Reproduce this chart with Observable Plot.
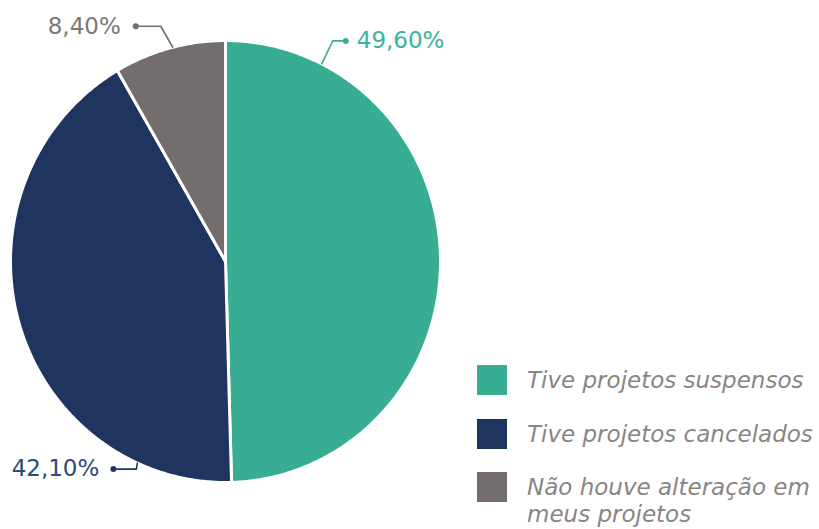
<!DOCTYPE html>
<html>
<head>
<meta charset="utf-8">
<script src="https://cdn.jsdelivr.net/npm/d3@7"></script>
<script src="https://cdn.jsdelivr.net/npm/@observablehq/plot@0.6"></script>
<style>
  html, body { margin: 0; padding: 0; background: #fff; }
  #wrap { position: relative; width: 819px; height: 529px; overflow: hidden; }
  #chart { position: absolute; left: 0; top: 0; }
  #legend { position: absolute; left: 477px; top: 365px; font-family: "DejaVu Sans", sans-serif; font-style: italic; font-size: 23px; color: #8a8583; }
  .row { display: flex; align-items: flex-start; height: 53.5px; }
  .sw { width: 30px; height: 30px; flex: none; margin-right: 20px; }
  .lab { line-height: 27px; margin-top: 2px; white-space: nowrap; }
</style>
</head>
<body>
<div id="wrap"><div id="chart"></div><div id="legend"></div></div>
<script>
const categories = ["Tive projetos suspensos", "Tive projetos cancelados", "Não houve alteração em meus projetos"];
const values = [49.6, 42.1, 8.4];
const valueLabels = ["49,60%", "42,10%", "8,40%"];
const colors = ["#38ad94", "#1f3560", "#736e6d"];
const labelColors = ["#3bb39a", "#2c4a7c", "#7d7775"];

// layout (pixels)
const cx = 225, cy = 261, rx = 215, ry = 221;
// callout anchor angles (degrees clockwise from top) and leader offsets in px
const callouts = [
  {angle: 26.6, path: [[0,0],[11,-23],[24,-23]], text: [35,-23], anchor: "start"},
  {angle: 204.2, path: [[0,0],[-1,6],[-24,6]], text: [-38,6], anchor: "end"},
  {angle: 345.8, path: [[0,0],[-12,-21],[-37,-21]], text: [-52,-21], anchor: "end"}
];

const total = d3.sum(values);
const slices = [];
let acc = 0;
values.forEach((v, i) => {
  const a0 = acc / total * 2 * Math.PI;
  acc += v;
  const a1 = acc / total * 2 * Math.PI;
  slices.push({cat: categories[i], x: 0, y: 0, k: 0});
  const n = Math.max(2, Math.ceil((a1 - a0) / (Math.PI / 360)));
  for (let j = 0; j <= n; j++) {
    const a = a0 + (a1 - a0) * j / n;
    slices.push({cat: categories[i], x: Math.sin(a), y: Math.cos(a), k: j + 1});
  }
  slices.push({cat: categories[i], x: 0, y: 0, k: n + 2});
});

const leaders = [], dots = [], texts = [];
callouts.forEach((c, i) => {
  const a = c.angle * Math.PI / 180;
  const ax = Math.sin(a), ay = Math.cos(a);
  c.path.forEach(([px, py], j) => leaders.push({i, x: ax + px / rx, y: ay - py / ry, k: j}));
  const last = c.path[c.path.length - 1];
  dots.push({i, x: ax + last[0] / rx, y: ay - last[1] / ry});
  texts.push({i, x: ax + c.text[0] / rx, y: ay - c.text[1] / ry, label: valueLabels[i], anchor: c.anchor});
});

const plot = Plot.plot({
  width: 819,
  height: 529,
  margin: 0,
  x: {domain: [-1, 1], range: [cx - rx, cx + rx], axis: null},
  y: {domain: [-1, 1], range: [cy + ry, cy - ry], axis: null},
  color: {domain: categories, range: colors},
  style: {background: "white"},
  marks: [
    Plot.line(slices, {x: "x", y: "y", z: "cat", fill: "cat", stroke: "white", strokeWidth: 3, strokeLinejoin: "round", curve: "linear"}),
    Plot.line(leaders, {x: "x", y: "y", z: "i", stroke: d => colors[d.i], strokeWidth: 1.6}),
    Plot.dot(dots, {x: "x", y: "y", r: 3, fill: d => colors[d.i], stroke: "none"}),
    Plot.text(texts.filter(d => d.anchor === "start"), {x: "x", y: "y", text: "label", fill: d => labelColors[d.i], textAnchor: "start", fontSize: 23, fontFamily: "DejaVu Sans", lineAnchor: "middle"}),
    Plot.text(texts.filter(d => d.anchor === "end"), {x: "x", y: "y", text: "label", fill: d => labelColors[d.i], textAnchor: "end", fontSize: 23, fontFamily: "DejaVu Sans", lineAnchor: "middle"})
  ]
});
document.getElementById("chart").appendChild(plot);

const legend = document.getElementById("legend");
const legendLines = [["Tive projetos suspensos"], ["Tive projetos cancelados"], ["Não houve alteração em", "meus projetos"]];
categories.forEach((c, i) => {
  const row = document.createElement("div");
  row.className = "row";
  const sw = document.createElement("div");
  sw.className = "sw";
  sw.style.background = colors[i];
  const lab = document.createElement("div");
  lab.className = "lab";
  lab.innerHTML = legendLines[i].join("<br>");
  row.appendChild(sw); row.appendChild(lab);
  legend.appendChild(row);
});
</script>
</body>
</html>
